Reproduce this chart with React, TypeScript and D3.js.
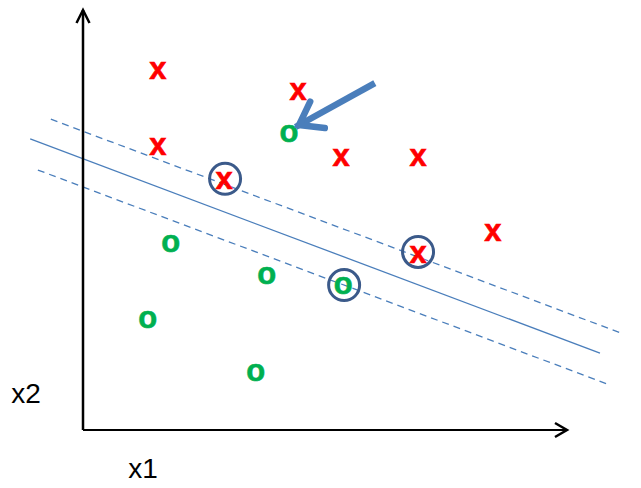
import React from "react";
import * as d3 from "d3";

// Data (in abstract units: x1 0..100, x2 0..100)
const crossX = [15.6, 44.8, 15.6, 53.75, 69.8, 29.4, 85.4, 69.8];
const crossY = [85.5, 80.5, 67.6, 65, 65, 59.5, 47.1, 41.9];
const circleX = [42.9, 18.3, 38.3, 54.2, 13.5, 36.0];
const circleY = [70.5, 44.3, 36.7, 34.3, 26.4, 13.6];
const svX = [29.6, 69.8, 54.4];
const svY = [59.8, 42.4, 34.5];
// boundary lines: [x0, y0, x1, y1]
const solidLine = [-11.0, 69.3, 107.7, 18.3];
const upperMargin = [-6.7, 74.0, 112.5, 22.9];
const lowerMargin = [-9.4, 61.9, 109.8, 10.7];
const arrowTail = [60.8, 82.6];
const arrowTip = [45.0, 72.6];
const axisLabels = ["x1", "x2"];

const W = 641;
const H = 488;

export default function App() {
  const x = d3.scaleLinear().domain([0, 100]).range([83, 563]);
  const y = d3.scaleLinear().domain([0, 100]).range([430, 10]);
  const x0 = x(0), y0 = y(0);
  const xEnd = 567, yTop = 10;
  const lineColor = "#4a7ebb";

  const ln = (a: number[], dash?: string) => (
    <line x1={x(a[0])} y1={y(a[1])} x2={x(a[2])} y2={y(a[3])}
      stroke={lineColor} strokeWidth={1.3} strokeDasharray={dash} />
  );

  // arrow geometry
  const tx = x(arrowTail[0]), ty = y(arrowTail[1]);
  const hx = x(arrowTip[0]), hy = y(arrowTip[1]);
  const ang = Math.atan2(hy - ty, hx - tx);
  const headLen = 26, headSpread = 0.62;
  const b1 = [hx - headLen * Math.cos(ang - headSpread), hy - headLen * Math.sin(ang - headSpread)];
  const b2 = [hx - headLen * Math.cos(ang + headSpread), hy - headLen * Math.sin(ang + headSpread)];

  return (
    <svg width={W} height={H} style={{ position: "absolute", left: 0, top: 0 }}
      fontFamily="'Liberation Sans', Arial, sans-serif">
      <rect width={W} height={H} fill="#fff" />
      {/* margin lines */}
      {ln(upperMargin, "7,5")}
      {ln(lowerMargin, "7,5")}
      {ln(solidLine)}
      {/* axes */}
      <line x1={x0} y1={y0} x2={x0} y2={yTop} stroke="#000" strokeWidth={2.5} />
      <line x1={x0} y1={y0} x2={xEnd} y2={y0} stroke="#000" strokeWidth={2.2} />
      <polyline points={`${x0 - 6.5},${yTop + 13} ${x0},${yTop} ${x0 + 6.5},${yTop + 13}`}
        fill="none" stroke="#000" strokeWidth={2.5} />
      <polyline points={`${xEnd - 12},${y0 - 7} ${xEnd},${y0} ${xEnd - 12},${y0 + 7}`}
        fill="none" stroke="#000" strokeWidth={2.5} />
      <text x={143} y={478} fontSize={28} textAnchor="middle">{axisLabels[0]}</text>
      <text x={26} y={403} fontSize={28} textAnchor="middle">{axisLabels[1]}</text>
      {/* crosses */}
      {crossX.map((v, i) => (
        <text key={"x" + i} x={x(v)} y={y(crossY[i]) + 8.5} fontSize={31} fontWeight="bold"
          fill="#ff0000" stroke="#ff0000" strokeWidth={0.6} textAnchor="middle">x</text>
      ))}
      {/* circles */}
      {circleX.map((v, i) => (
        <text key={"o" + i} x={x(v)} y={y(circleY[i]) + 8.5} fontSize={31} fontWeight="bold"
          fill="#00b050" stroke="#00b050" strokeWidth={0.6} textAnchor="middle">o</text>
      ))}
      {/* support vectors */}
      {svX.map((v, i) => (
        <circle key={"sv" + i} cx={x(v)} cy={y(svY[i])} r={15.5} fill="none"
          stroke="#3b5a8a" strokeWidth={3} />
      ))}
      {/* arrow */}
      <line x1={tx} y1={ty} x2={hx + 4 * Math.cos(ang)} y2={hy + 4 * Math.sin(ang)}
        stroke={lineColor} strokeWidth={6.5} />
      <polyline points={`${b1[0]},${b1[1]} ${hx},${hy} ${b2[0]},${b2[1]}`}
        fill="none" stroke={lineColor} strokeWidth={6.5} strokeLinecap="round" strokeLinejoin="miter" />
    </svg>
  );
}
